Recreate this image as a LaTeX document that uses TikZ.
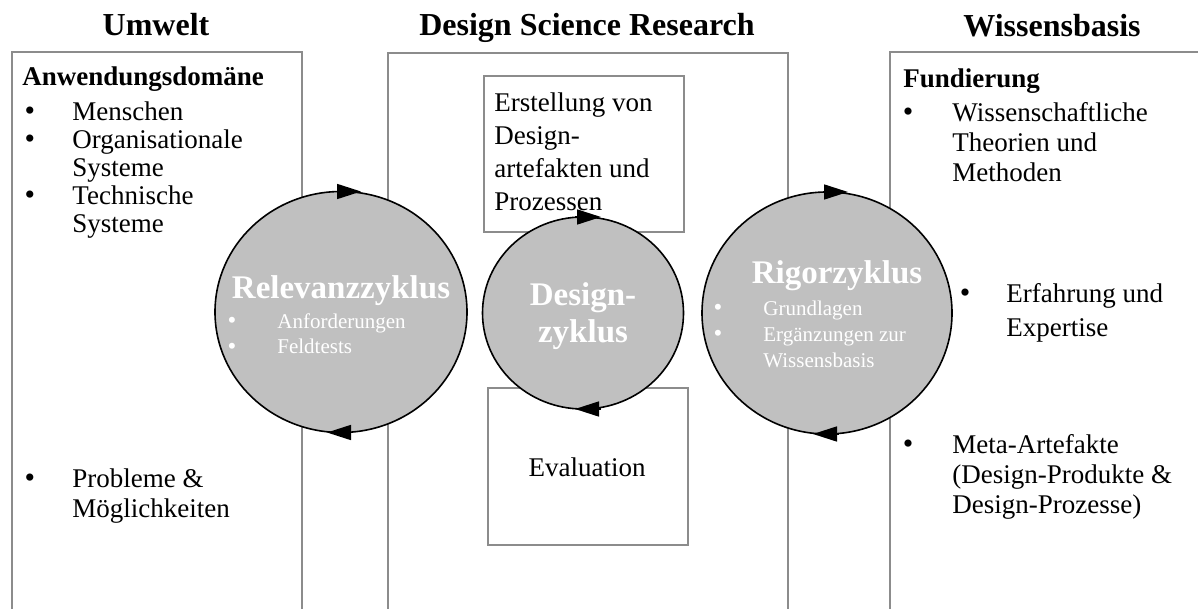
\documentclass[tikz,border=0pt]{standalone}
\usepackage{fontspec}
\setmainfont{Liberation Serif}
\usepackage{tikz}
\usetikzlibrary{shapes.geometric,arrows.meta}
\definecolor{rahmengrau}{RGB}{140,140,140}
\definecolor{zyklusgrau}{RGB}{192,192,192}
\newcommand{\zeilen}[1]{\begin{tabular}[t]{@{}l@{}}#1\end{tabular}}
\newcommand{\zeilenmitte}[1]{\begin{tabular}[t]{@{}c@{}}#1\end{tabular}}

\begin{document}
\begin{tikzpicture}[x=0.5pt,y=-0.5pt,
  spalte/.style={rectangle, draw=rahmengrau, line width=0.8pt, anchor=north west, inner sep=0pt},
  zyklus/.style={ellipse, draw, fill=zyklusgrau, line width=0.8pt, inner sep=0pt, outer sep=0pt},
  kopf/.style={font=\fontsize{16}{18}\selectfont\bfseries, anchor=base, inner sep=0pt},
  eintrag/.style={font=\fontsize{13.5}{14}\selectfont, anchor=base west, inner sep=0pt},
  punkt/.style={font=\fontsize{15}{15}\selectfont, anchor=base, inner sep=0pt},
  zyklustitel/.style={text=white, font=\fontsize{16.5}{18.5}\selectfont\bfseries, anchor=base, inner sep=0pt},
  zykluseintrag/.style={text=white, font=\fontsize{10.5}{13}\selectfont, anchor=base west, inner sep=0pt},
  zykluspunkt/.style={text=white, font=\fontsize{12.5}{12.5}\selectfont, anchor=base, inner sep=0pt},
  pfeil/.style={-{Triangle[length=12pt,width=7.5pt]}, line width=0.8pt}]

\useasboundingbox (0,0) rectangle (1198,609);
\clip (0,0) rectangle (1198,609);

% Spalten
\node[spalte, minimum width=145pt, minimum height=350pt] (umwelt) at (11,51) {};
\node[spalte, minimum width=200pt, minimum height=350pt] (dsr) at (387,52) {};
\node[spalte, minimum width=200pt, minimum height=350pt] (wissen) at (889,51) {};
\node[spalte, minimum width=100pt, minimum height=78pt] (erstellung) at (483,75) {};
\node[spalte, minimum width=100pt, minimum height=78.5pt] (evaluation) at (487,387) {};

\node[kopf] (kumwelt) at (156,36) {Umwelt};
\node[kopf] (kdsr) at (587,36) {Design Science Research};
\node[kopf] (kwissen) at (1052,37) {Wissensbasis};

% Zyklen
\node[zyklus, minimum width=126pt, minimum height=120.5pt] (relevanz) at (341,312) {};
\node[zyklus, minimum width=100.5pt, minimum height=96pt] (design) at (583,313) {};
\node[zyklus, minimum width=125pt, minimum height=121pt] (rigor) at (827,313) {};

\draw[pfeil] ([xshift=-3pt]relevanz.north) -- ([xshift=10pt]relevanz.north);
\draw[pfeil] ([xshift=6pt]relevanz.south) -- ([xshift=-7pt]relevanz.south);
\draw[pfeil] ([xshift=-4pt]design.north) -- ([xshift=9pt]design.north);
\draw[pfeil] ([xshift=9pt]design.south) -- ([xshift=-4pt]design.south);
\draw[pfeil] ([xshift=-2pt]rigor.north) -- ([xshift=10.5pt]rigor.north);
\draw[pfeil] ([xshift=6pt]rigor.south) -- ([xshift=-7pt]rigor.south);

% Umwelt
\node[eintrag, font=\fontsize{13.5}{14}\selectfont\bfseries] (anwendung) at (22,86) {Anwendungsdomäne};
\node[punkt] (p1) at (30,121) {\textbullet};
\node[eintrag] (menschen) at (72,121) {Menschen};
\node[punkt] (p2) at (30,149) {\textbullet};
\node[eintrag] (orga) at (72,149) {\zeilen{Organisationale\\Systeme}};
\node[punkt] (p3) at (30,205) {\textbullet};
\node[eintrag] (technik) at (72,205) {\zeilen{Technische\\Systeme}};
\node[punkt] (p4) at (30,487) {\textbullet};
\node[eintrag, font=\fontsize{13.5}{15}\selectfont] (probleme) at (72,487) {\zeilen{Probleme \&\\Möglichkeiten}};

% Design Science Research
\node[eintrag, font=\fontsize{13.5}{16.5}\selectfont] (terstellung) at (494,112) {\zeilen{Erstellung von\\Design-\\artefakten und\\Prozessen}};
\node[eintrag, anchor=base] (tevaluation) at (587,476) {Evaluation};

% Wissensbasis
\node[eintrag, font=\fontsize{13.5}{14}\selectfont\bfseries] (fundierung) at (903,88) {Fundierung};
\node[punkt] (p5) at (908,122) {\textbullet};
\node[eintrag, font=\fontsize{13.5}{15}\selectfont] (theorien) at (952,122) {\zeilen{Wissenschaftliche\\Theorien und\\Methoden}};
\node[punkt] (p6) at (965,302) {\textbullet};
\node[eintrag, font=\fontsize{13.5}{17}\selectfont] (erfahrung) at (1006,302) {\zeilen{Erfahrung und\\Expertise}};
\node[punkt] (p7) at (908,453) {\textbullet};
\node[eintrag, font=\fontsize{13.5}{15}\selectfont] (meta) at (952,453) {\zeilen{Meta-Artefakte\\(Design-Produkte \&\\Design-Prozesse)}};

% Texte in den Zyklen
\node[zyklustitel] (trelevanz) at (341,298) {Relevanzzyklus};
\node[zykluspunkt] (q1) at (232,328) {\textbullet};
\node[zykluspunkt] (q2) at (232,354) {\textbullet};
\node[zykluseintrag] (anforderungen) at (277,328) {\zeilen{Anforderungen\\Feldtests}};
\node[zyklustitel] (tdesign) at (583,305) {\zeilenmitte{Design-\\zyklus}};
\node[zyklustitel] (trigor) at (837,283) {Rigorzyklus};
\node[zykluspunkt] (q3) at (718,315) {\textbullet};
\node[zykluspunkt] (q4) at (718,341) {\textbullet};
\node[zykluseintrag] (grundlagen) at (763,315) {\zeilen{Grundlagen\\Ergänzungen zur\\Wissensbasis}};
\end{tikzpicture}
\end{document}
